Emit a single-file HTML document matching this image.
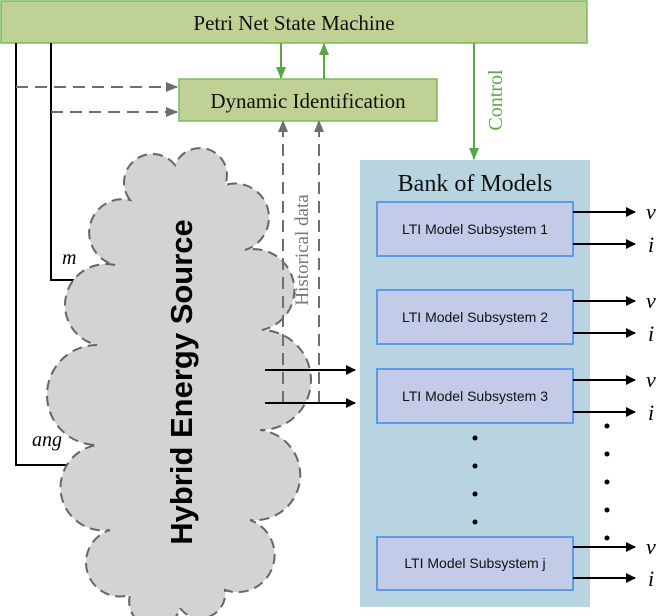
<!DOCTYPE html>
<html><head><meta charset="utf-8"><style>
html,body{margin:0;padding:0;background:#fff;}
svg{display:block;}
.serif{font-family:"Liberation Serif",serif;}
.sans{font-family:"Liberation Sans",sans-serif;}
</style></head><body>
<svg width="661" height="616" viewBox="0 0 661 616" xmlns="http://www.w3.org/2000/svg">
<defs>
<marker id="ab" markerWidth="10" markerHeight="10" refX="9" refY="5" orient="auto" markerUnits="userSpaceOnUse"><path d="M0,0 L10,5 L0,10 Z" fill="#000"/></marker>
<marker id="ag" markerWidth="12" markerHeight="10" refX="11" refY="5" orient="auto" markerUnits="userSpaceOnUse"><path d="M0,0 L12,5 L0,10 Z" fill="#5aa845"/></marker>
<marker id="ay" markerWidth="12" markerHeight="10" refX="11" refY="5" orient="auto" markerUnits="userSpaceOnUse"><path d="M0,0 L12,5 L0,10 Z" fill="#6e6e6e"/></marker>
</defs>
<!-- Petri box -->
<rect x="1" y="1" width="586" height="42" fill="#c0d196" stroke="#7dbb5a" stroke-width="1.5"/>
<text x="294" y="30" text-anchor="middle" class="serif" font-size="21" fill="#111">Petri Net State Machine</text>
<!-- Dynamic identification -->
<rect x="179" y="79" width="258" height="42" fill="#c0d196" stroke="#7dbb5a" stroke-width="1.5"/>
<text x="308" y="108" text-anchor="middle" class="serif" font-size="21" fill="#111">Dynamic Identification</text>
<!-- green arrows -->
<line x1="281" y1="43" x2="281" y2="78" stroke="#5aa845" stroke-width="2" marker-end="url(#ag)"/>
<line x1="324" y1="79" x2="324" y2="44" stroke="#5aa845" stroke-width="2" marker-end="url(#ag)"/>
<line x1="474" y1="43" x2="474" y2="159" stroke="#5aa845" stroke-width="2" marker-end="url(#ag)"/>
<text transform="translate(502,100) rotate(-90)" text-anchor="middle" class="serif" font-size="20" fill="#5aa845">Control</text>
<!-- left lines -->
<polyline points="16,43 16,465 100,465" fill="none" stroke="#000" stroke-width="2" marker-end="url(#ab)"/>
<polyline points="51,43 51,280 103,280" fill="none" stroke="#000" stroke-width="2" marker-end="url(#ab)"/>
<line x1="16" y1="87" x2="177" y2="87" stroke="#6e6e6e" stroke-width="2" stroke-dasharray="12,7" marker-end="url(#ay)"/>
<line x1="51" y1="112" x2="177" y2="112" stroke="#6e6e6e" stroke-width="2" stroke-dasharray="12,7" marker-end="url(#ay)"/>
<text x="62" y="264" class="serif" font-size="20" font-style="italic">m</text>
<text x="32" y="446" class="serif" font-size="20" font-style="italic">ang</text>
<!-- cloud -->
<path d="M130 200 A25 25 0 0 1 175 165 A25 25 0 0 1 225 185 A30 30 0 0 1 245 250 A40 40 0 0 1 262 330 A45 45 0 0 1 260 430 A35 35 0 0 1 250 520 A30 30 0 0 1 225 590 A25 25 0 0 1 180 608 A25 25 0 0 1 130 595 A30 30 0 0 1 110 530 A40 40 0 0 1 97 445 A45 45 0 0 1 97 345 A35 35 0 0 1 115 265 A30 30 0 0 1 130 200 Z" fill="#d3d3d3" stroke="#666" stroke-width="2" stroke-dasharray="10,6"/>
<text transform="translate(192,382) rotate(-90)" text-anchor="middle" class="sans" font-size="31" font-weight="bold" fill="#000">Hybrid Energy Source</text>
<!-- historical data -->
<line x1="283" y1="403" x2="283" y2="121" stroke="#6e6e6e" stroke-width="2" stroke-dasharray="12,7" marker-end="url(#ay)"/>
<line x1="319" y1="403" x2="319" y2="121" stroke="#6e6e6e" stroke-width="2" stroke-dasharray="12,7" marker-end="url(#ay)"/>
<text transform="translate(308,250) rotate(-90)" text-anchor="middle" class="serif" font-size="19" fill="#777">Historical data</text>
<line x1="265" y1="370" x2="355" y2="370" stroke="#000" stroke-width="2" marker-end="url(#ab)"/>
<line x1="265" y1="403" x2="355" y2="403" stroke="#000" stroke-width="2" marker-end="url(#ab)"/>
<!-- bank -->
<rect x="360" y="160" width="230" height="447" fill="#b8d4e0"/>
<text x="475" y="191" text-anchor="middle" class="serif" font-size="24" fill="#111">Bank of Models</text>
<g class="sans" font-size="14" fill="#111" text-anchor="middle">
<rect x="377" y="202" width="196" height="54" fill="#c3cbe8" stroke="#5b9ae8" stroke-width="2"/>
<text x="475" y="234">LTI Model Subsystem 1</text>
<rect x="377" y="290" width="196" height="54" fill="#c3cbe8" stroke="#5b9ae8" stroke-width="2"/>
<text x="475" y="322">LTI Model Subsystem 2</text>
<rect x="377" y="369" width="196" height="54" fill="#c3cbe8" stroke="#5b9ae8" stroke-width="2"/>
<text x="475" y="401">LTI Model Subsystem 3</text>
<rect x="377" y="537" width="196" height="53" fill="#c3cbe8" stroke="#5b9ae8" stroke-width="2"/>
<text x="475" y="568">LTI Model Subsystem j</text>
</g>
<g stroke="#000" stroke-width="2">
<line x1="573" y1="212" x2="635" y2="212" marker-end="url(#ab)"/>
<line x1="573" y1="244" x2="635" y2="244" marker-end="url(#ab)"/>
<line x1="573" y1="301" x2="635" y2="301" marker-end="url(#ab)"/>
<line x1="573" y1="333" x2="635" y2="333" marker-end="url(#ab)"/>
<line x1="573" y1="380" x2="635" y2="380" marker-end="url(#ab)"/>
<line x1="573" y1="412" x2="635" y2="412" marker-end="url(#ab)"/>
<line x1="573" y1="547" x2="635" y2="547" marker-end="url(#ab)"/>
<line x1="573" y1="578" x2="635" y2="578" marker-end="url(#ab)"/>
</g>
<g class="serif" font-size="22" font-style="italic" fill="#000">
<text x="646" y="219">v</text><text x="648" y="252">i</text>
<text x="646" y="308">v</text><text x="648" y="341">i</text>
<text x="646" y="387">v</text><text x="648" y="420">i</text>
<text x="646" y="554">v</text><text x="648" y="586">i</text>
</g>
<g fill="#000">
<circle cx="475" cy="438" r="2.5"/><circle cx="475" cy="466" r="2.5"/><circle cx="475" cy="494" r="2.5"/><circle cx="475" cy="522" r="2.5"/>
<circle cx="607" cy="426" r="2.5"/><circle cx="607" cy="454" r="2.5"/><circle cx="607" cy="482" r="2.5"/><circle cx="607" cy="510" r="2.5"/><circle cx="607" cy="538" r="2.5"/>
</g>
</svg>
</body></html>
